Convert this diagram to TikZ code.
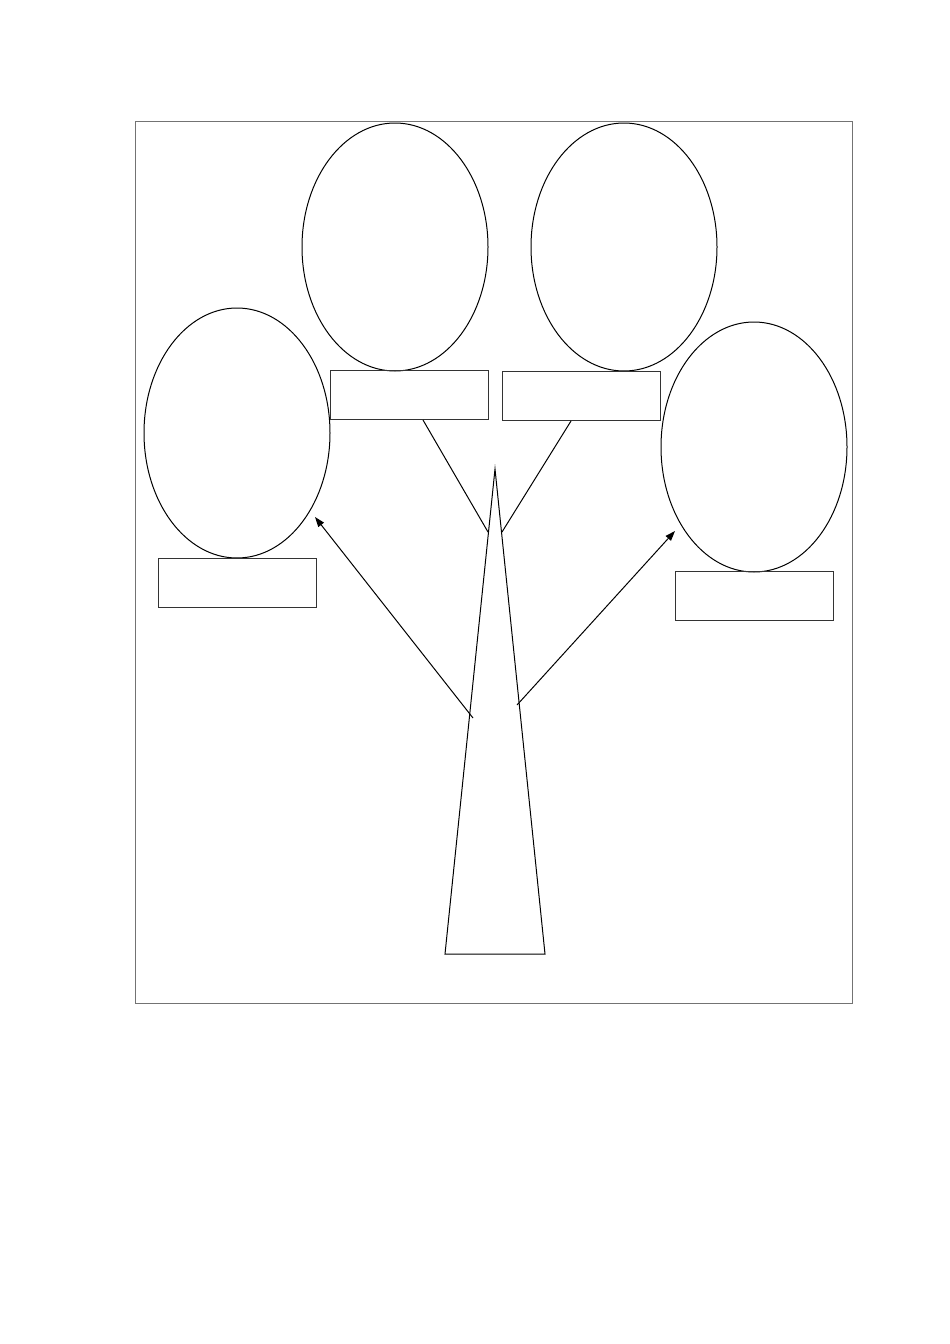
\documentclass[tikz,border=0pt]{standalone}
\usetikzlibrary{shapes.geometric,arrows.meta}
\begin{document}
\begin{tikzpicture}[x=1pt,y=-1pt,
  ln/.style={line width=1pt,black},
  leaf/.style={ln,draw,ellipse,inner sep=0pt,minimum width=186pt,minimum height=248pt},
  tag/.style={line width=1pt,draw=black!80,rectangle,inner sep=0pt,minimum width=158pt,minimum height=49pt},
  arr/.style={ln,-{Triangle[length=10pt,width=7pt]}}]
\useasboundingbox (0,0) rectangle (950,1344);
\node[line width=0.8pt,draw=black!55,rectangle,inner sep=0pt,minimum width=717pt,minimum height=882pt] (frame) at (493.5,562) {};
\node[leaf] (e1) at (395,247) {};
\node[leaf] (e2) at (624,247) {};
\node[leaf,minimum height=250pt] (e3) at (237,433) {};
\node[leaf,minimum height=250pt] (e4) at (754,447) {};
\node[tag] (r1) at (409,395) {};
\node[tag] (r2) at (581.5,396) {};
\node[tag] (r3) at (237,582.5) {};
\node[tag] (r4) at (754,595.5) {};
\coordinate (apex) at (495,469);
\coordinate (bl) at (445,954);
\coordinate (br) at (545,954);
\draw[ln,line join=miter] (apex) -- (bl) -- (br) -- cycle;
\coordinate (s1) at (423,420);
\coordinate (t1) at (488,532);
\coordinate (s2) at (571,421);
\coordinate (t2) at (502,532);
\draw[ln] (s1) -- (t1);
\draw[ln] (s2) -- (t2);
\coordinate (a1) at (473,718);
\coordinate (b1) at (315,517);
\coordinate (a2) at (517,705);
\coordinate (b2) at (675,531);
\draw[arr] (a1) -- (b1);
\draw[arr] (a2) -- (b2);
\end{tikzpicture}
\end{document}
